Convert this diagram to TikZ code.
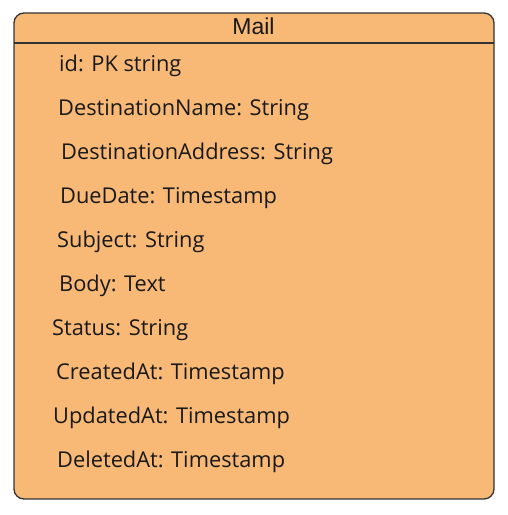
\documentclass[tikz,border=0pt]{standalone}
\usepackage{fontspec}
\setmainfont{Open Sans}
\newfontfamily\titlefont{Liberation Sans}
\usetikzlibrary{positioning}
\definecolor{entityfill}{HTML}{F8B976}
\definecolor{entityline}{HTML}{333333}

\begin{document}
\begin{tikzpicture}[
    x=1pt, y=1pt,
    entity/.style={draw=entityline, fill=entityfill, line width=1.3pt, rounded corners=10pt,
        minimum width=480pt, minimum height=486pt, inner sep=0pt},
    title/.style={font=\titlefont\fontsize{23}{23}\selectfont, anchor=base, inner sep=0pt, text=black!90},
    attr/.style={font=\fontsize{21.8}{21.8}\selectfont, anchor=base west, inner sep=0pt, text=black!90}
]
    \useasboundingbox (0,0) rectangle (507,515);

    \node[entity] (mail) at (254,259) {};
    \node[title] (name) at (253.5,480) {Mail};
    \coordinate (sepL) at (14,472);
    \coordinate (sepR) at (494,472);
    \draw[entityline, line width=1.2pt] (sepL) -- (sepR);

    \node[attr] (id)      at (59,443) {id: PK string};
    \node[attr] (dname)   at (58,399) {DestinationName: String};
    \node[attr] (daddr)   at (61,355) {DestinationAddress: String};
    \node[attr] (due)     at (60,311) {DueDate: Timestamp};
    \node[attr] (subject) at (57,267) {Subject: String};
    \node[attr] (body)    at (59,223) {Body: Text};
    \node[attr] (status)  at (52,179) {Status: String};
    \node[attr] (created) at (56,135) {CreatedAt: Timestamp};
    \node[attr] (updated) at (53,91)  {UpdatedAt: Timestamp};
    \node[attr] (deleted) at (57,47)  {DeletedAt: Timestamp};
\end{tikzpicture}
\end{document}
